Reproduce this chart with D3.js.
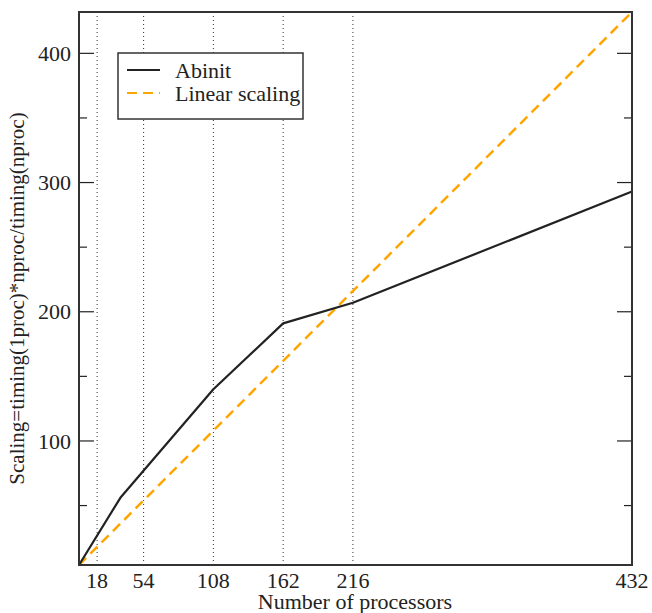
<!DOCTYPE html>
<html>
<head>
<meta charset="utf-8">
<script src="https://cdn.jsdelivr.net/npm/d3@7"></script>
</head>
<body style="margin:0;background:#fff">
<svg id="fig" width="652" height="613"></svg>
<script>
// Abinit scaling data
var nproc = [4, 36, 108, 162, 216, 432];
var abinit = [4, 56, 140, 191, 207, 293];
var linear = [4, 432];
var xTicks = [18, 54, 108, 162, 216, 432];
var gridX = [18, 54, 108, 162, 216];
var yMajor = [100, 200, 300, 400];
var yMinor = [50, 150, 250, 350];

var svg = d3.select("#fig");
var margin = {left:79, right:20, top:12, bottom:48};
var w = 652 - margin.left - margin.right;
var h = 613 - margin.top - margin.bottom;

var x = d3.scaleLinear().domain([4, 432]).range([0, w]);
var y = d3.scaleLinear().domain([4, 432]).range([h, 0]);

var plot = svg.append("g").attr("transform", "translate(" + margin.left + "," + margin.top + ")");

function label(sel, size){
    return sel.style("font-family", "Liberation Serif")
        .attr("font-size", size || 22).attr("fill", "#222");
}

// dotted verticals
plot.selectAll(".grid").data(gridX).enter().append("line")
    .attr("x1", d => x(d)).attr("x2", d => x(d))
    .attr("y1", 0).attr("y2", h)
    .attr("stroke", "#333").attr("stroke-width", 1)
    .attr("stroke-dasharray", "1,3");

// y ticks, left and right
function yticks(vals, len){
    plot.selectAll(null).data(vals).enter().append("line")
        .attr("x1", 0).attr("x2", len)
        .attr("y1", d => y(d)).attr("y2", d => y(d))
        .attr("stroke", "#222").attr("stroke-width", 1.2);
    plot.selectAll(null).data(vals).enter().append("line")
        .attr("x1", w).attr("x2", w - len)
        .attr("y1", d => y(d)).attr("y2", d => y(d))
        .attr("stroke", "#222").attr("stroke-width", 1.2);
}
yticks(yMajor, 15);
yticks(yMinor, 8);

plot.selectAll(".ylab").data(yMajor).enter().append("text")
    .attr("x", -8).attr("y", d => y(d)).attr("dy", "0.35em")
    .attr("text-anchor", "end")
    .call(label)
    .text(d => d);

plot.selectAll(".xlab").data(xTicks).enter().append("text")
    .attr("x", d => x(d)).attr("y", h + 23)
    .attr("text-anchor", "middle")
    .call(label)
    .text(d => d);

// linear scaling
var line = d3.line().x(d => x(d[0])).y(d => y(d[1]));
plot.append("path")
    .datum(linear.map(v => [v, v]))
    .attr("d", line)
    .attr("fill", "none").attr("stroke", "#ffa500")
    .attr("stroke-width", 2.5).attr("stroke-dasharray", "10,6");

plot.append("path")
    .datum(nproc.map((v, i) => [v, abinit[i]]))
    .attr("d", line)
    .attr("fill", "none").attr("stroke", "#222")
    .attr("stroke-width", 2.2).attr("stroke-linejoin", "round");

// frame
plot.append("rect").attr("width", w).attr("height", h)
    .attr("fill", "none").attr("stroke", "#333").attr("stroke-width", 2);

// legend
var leg = svg.append("g").attr("transform", "translate(118,53)");
leg.append("rect").attr("width", 185).attr("height", 66)
    .attr("fill", "#fff").attr("stroke", "#333").attr("stroke-width", 1.5);
var legItems = [
    {name:"Abinit", color:"#222", dash:null},
    {name:"Linear scaling", color:"#ffa500", dash:"10,6"}
];
legItems.forEach(function(d, i){
    var yy = 17 + i * 23;
    leg.append("line").attr("x1", 9).attr("x2", 42).attr("y1", yy).attr("y2", yy)
        .attr("stroke", d.color).attr("stroke-width", 2.2)
        .attr("stroke-dasharray", d.dash);
    leg.append("text").attr("x", 57).attr("y", yy).attr("dy", "0.35em")
        .call(label).text(d.name);
});

// axis titles
svg.append("text").attr("x", 355).attr("y", 609)
    .attr("text-anchor", "middle")
    .call(label)
    .text("Number of processors");
svg.append("text")
    .attr("transform", "translate(24," + (margin.top + h / 2 + 10) + ") rotate(-90)")
    .attr("text-anchor", "middle")
    .call(label, 21)
    .text("Scaling=timing(1proc)*nproc/timing(nproc)");
</script>
</body>
</html>
